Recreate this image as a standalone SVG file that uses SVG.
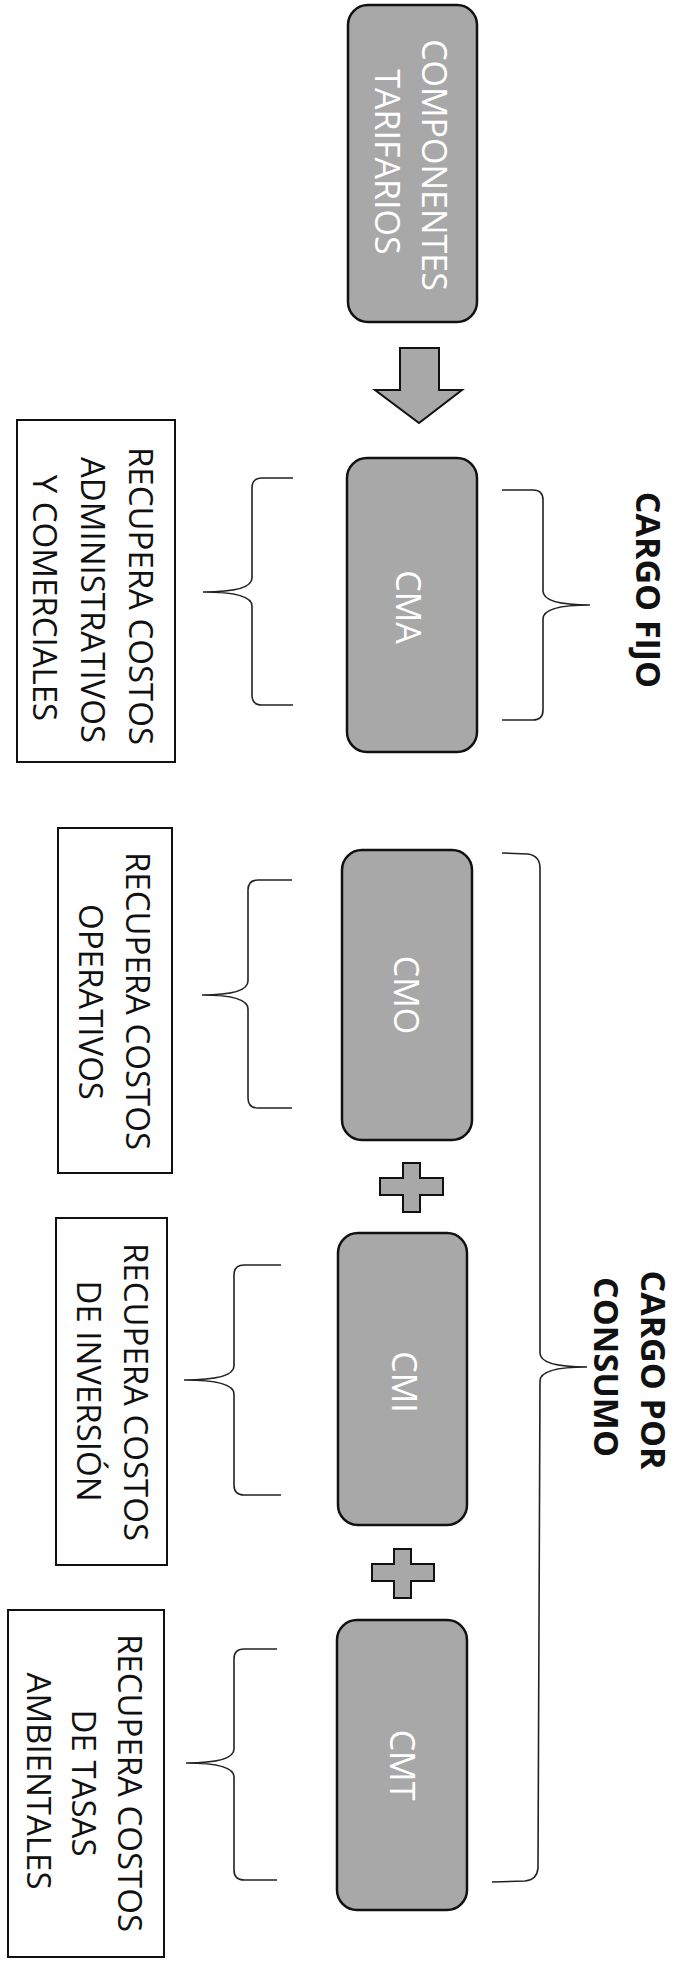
<svg xmlns="http://www.w3.org/2000/svg" width="679" height="1965" viewBox="0 0 679 1965">
<style>
.node{fill:#a8a8a8;stroke:#111;stroke-width:2.5}
.lbl{fill:#fff;font-family:"Open Sans","Liberation Sans",sans-serif;font-size:34px;text-anchor:middle}
.note{fill:#fff;stroke:#111;stroke-width:2}
.nt{fill:#111;font-family:"Open Sans","Liberation Sans",sans-serif;font-size:33px;text-anchor:middle}
.brace{fill:none;stroke:#222;stroke-width:1.6}
.ttl{fill:#111;font-family:"Open Sans","Liberation Sans",sans-serif;font-size:34px;font-weight:bold;text-anchor:middle}
.sym{fill:#a8a8a8;stroke:#111;stroke-width:2}
</style>
<rect width="679" height="1965" fill="#fff"/>

<g id="componentes">
<rect class="node" x="348" y="5" width="129" height="317" rx="20"/>
<text class="lbl" transform="translate(422,165) rotate(90)">COMPONENTES</text>
<text class="lbl" transform="translate(375,162) rotate(90)">TARIFARIOS</text>
</g>

<g id="cma">
<rect class="node" x="347" y="458" width="130" height="294" rx="20"/>
<text class="lbl" transform="translate(396,607) rotate(90)">CMA</text>
</g>
<g id="cmo">
<rect class="node" x="342" y="850" width="130" height="290" rx="20"/>
<text class="lbl" transform="translate(394,995) rotate(90)">CMO</text>
</g>
<g id="cmi">
<rect class="node" x="338" y="1233" width="129" height="292" rx="20"/>
<text class="lbl" transform="translate(392,1382) rotate(90)">CMI</text>
</g>
<g id="cmt">
<rect class="node" x="337" y="1620" width="130" height="290" rx="20"/>
<text class="lbl" transform="translate(390,1765) rotate(90)">CMT</text>
</g>

<g id="nota-cma">
<rect class="note" x="17" y="420" width="158" height="342"/>
<text class="nt" transform="translate(129,596) rotate(90)">RECUPERA COSTOS</text>
<text class="nt" transform="translate(81,600) rotate(90)">ADMINISTRATIVOS</text>
<text class="nt" transform="translate(33,598) rotate(90)">Y COMERCIALES</text>
</g>
<g id="nota-cmo">
<rect class="note" x="58" y="828" width="114" height="345"/>
<text class="nt" transform="translate(126,1001) rotate(90)">RECUPERA COSTOS</text>
<text class="nt" transform="translate(79,1002) rotate(90)">OPERATIVOS</text>
</g>
<g id="nota-cmi">
<rect class="note" x="56" y="1218" width="111" height="347"/>
<text class="nt" transform="translate(124,1392) rotate(90)">RECUPERA COSTOS</text>
<text class="nt" transform="translate(77,1391) rotate(90)">DE INVERSIÓN</text>
</g>
<g id="nota-cmt">
<rect class="note" x="8" y="1610" width="156" height="347"/>
<text class="nt" transform="translate(118,1783) rotate(90)">RECUPERA COSTOS</text>
<text class="nt" transform="translate(72,1783) rotate(90)">DE TASAS</text>
<text class="nt" transform="translate(27,1781) rotate(90)">AMBIENTALES</text>
</g>

<g id="cargo-fijo">
<text class="ttl" transform="translate(636,590) rotate(90)">CARGO FIJO</text>
</g>
<g id="cargo-consumo">
<text class="ttl" transform="translate(641,1370) rotate(90)">CARGO POR</text>
<text class="ttl" transform="translate(594,1367) rotate(90)">CONSUMO</text>
</g>

<g id="plus-signs">
<path class="sym" d="M403 1163 H420 V1178 H443 V1195 H420 V1212 H403 V1195 H380 V1178 H403 Z"/>
<path class="sym" d="M394 1549 H411 V1564 H434 V1581 H411 V1598 H394 V1581 H372 V1564 H394 Z"/>
</g>

<g id="connectors">
<polygon class="sym" points="400,348 439,348 439,390 462,390 419,423 375,390 400,390"/>
<path class="brace" d="M293 478 L262 478 Q252 478 252 488 L252 578 Q252 592 203 592 Q252 592 252 606 L252 695 Q252 705 262 705 L293 705"/>
<path class="brace" d="M292 880 L258 880 Q248 880 248 890 L248 981 Q248 995 202 995 Q248 995 248 1009 L248 1098 Q248 1108 258 1108 L292 1108"/>
<path class="brace" d="M281 1265 L244 1265 Q234 1265 234 1275 L234 1366 Q234 1380 184 1380 Q234 1380 234 1394 L234 1485 Q234 1495 244 1495 L281 1495"/>
<path class="brace" d="M277 1649 L244 1649 Q234 1649 234 1659 L234 1749 Q234 1763 186 1763 Q234 1763 234 1777 L234 1870 Q234 1880 244 1880 L277 1880"/>
<path class="brace" d="M502 490 L533 490 Q543 490 543 500 L543 591 Q543 605 590 605 Q543 605 543 619 L543 710 Q543 720 533 720 L502 720"/>
<path class="brace" d="M502 853 L528 854 Q540 856 540 868 L540 1353 Q540 1367 587 1367 Q540 1367 540 1381 L538 1868 Q537 1880 525 1881 L492 1882"/>
</g>
</svg>
